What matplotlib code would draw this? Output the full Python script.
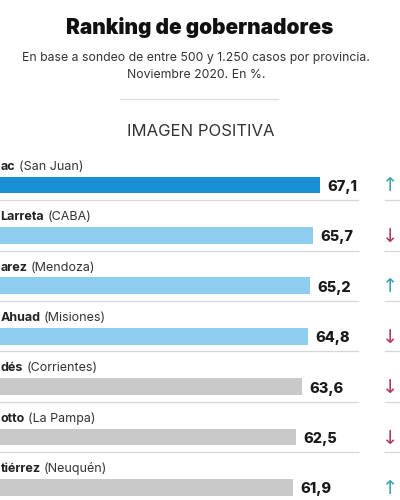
import matplotlib.pyplot as plt
from matplotlib.lines import Line2D

plt.rcParams['font.family'] = ['Inter', 'DejaVu Sans']

nombres = ["ac", "Larreta", "arez", "Ahuad", "dés", "otto", "tiérrez"]
provincias = ["(San Juan)", "(CABA)", "(Mendoza)", "(Misiones)", "(Corrientes)",
              "(La Pampa)", "(Neuquén)"]
valores = [67.1, 65.7, 65.2, 64.8, 63.6, 62.5, 61.9]
tendencia = ["up", "down", "up", "down", "down", "down", "up"]
colores = ["#1a8fd2", "#8dcdee", "#8dcdee", "#8dcdee", "#c9c9c9", "#c9c9c9", "#c9c9c9"]

fig = plt.figure(figsize=(4, 5), dpi=100)
ax = fig.add_axes([0, 0, 1, 1])
ax.set_xlim(6.1, 82.3)
ax.set_ylim(6.25, -3.67)
ax.axis('off')

filas = range(len(valores))
ax.barh(filas, valores, height=0.33, color=colores, left=0)

for i, (n, p, v, t) in enumerate(zip(nombres, provincias, valores, tendencia)):
    txt = ax.text(6.2, i - 0.36, n, fontsize=9, fontweight='bold', color='#222222',
                  ha='left', va='center')
    ax.annotate(p, xy=(1, 0), xycoords=txt, xytext=(2.5, 0), textcoords='offset points',
                fontsize=9, color='#333333', ha='left', va='bottom')
    ax.text(v + 1.35, i + 0.04, f"{v:.1f}".replace(".", ","), fontsize=10.5,
            fontweight='heavy', color='#1a1a1a', ha='left', va='center')
    ax.plot([6.1, 74.3], [i + 0.3, i + 0.3], color='#d6d6d6', lw=0.9)
    ax.plot([79.4, 82.3], [i + 0.3, i + 0.3], color='#d6d6d6', lw=0.9)
    if t == "up":
        ax.text(80.5, i + 0.02, "↑", fontsize=14, color='#3aa3b0', ha='center',
                va='center', family='DejaVu Sans')
    else:
        ax.text(80.5, i + 0.02, "↓", fontsize=14, color='#b2385f', ha='center',
                va='center', family='DejaVu Sans')

fig.text(0.5, 1 - 28 / 500, "Ranking de gobernadores", fontsize=15, fontweight='black',
         color='#111111', ha='center', va='center')
fig.text(0.49, 1 - 58 / 500, "En base a sondeo de entre 500 y 1.250 casos por provincia.",
         fontsize=8.8, color='#333333', ha='center', va='center')
fig.text(0.49, 1 - 75 / 500, "Noviembre 2020. En %.", fontsize=8.8, color='#333333',
         ha='center', va='center')
fig.add_artist(Line2D([120 / 400, 278 / 400], [1 - 99 / 500, 1 - 99 / 500],
                      color='#dddddd', lw=1))
fig.text(0.502, 1 - 132 / 500, "IMAGEN POSITIVA", fontsize=12, color='#333333',
         ha='center', va='center')

fig.savefig('out.png', dpi=100)
